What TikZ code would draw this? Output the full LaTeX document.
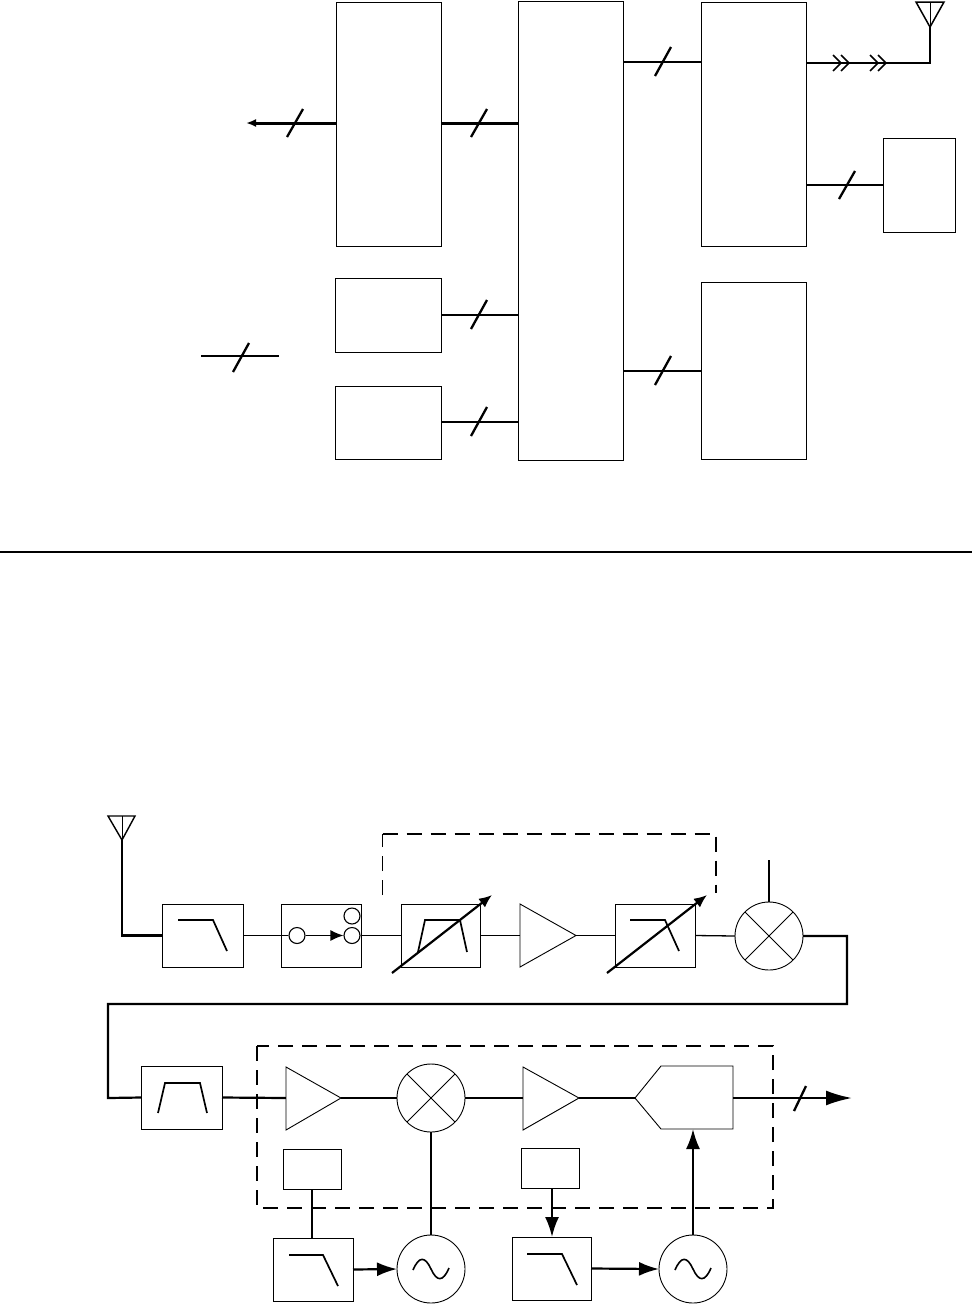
\documentclass[tikz,border=0pt]{standalone}
\usetikzlibrary{arrows.meta,calc}
\tikzset{
  x=1pt,y=-1pt,
  blk/.style={draw=black,line width=0.9pt,fill=white,rectangle,inner sep=0pt,outer sep=0pt},
  rnd/.style={draw=black,line width=0.9pt,fill=white,circle,inner sep=0pt,outer sep=0pt,minimum size=68pt},
  thin wire/.style={line width=1.3pt},
  wire/.style={line width=2.2pt},
  fat wire/.style={line width=3pt},
  glyph/.style={line width=1.7pt},
  slash/.style={line width=2.3pt},
  dash box/.style={line width=2.4pt,dash pattern=on 15pt off 9pt},
  big tip/.style={-{Latex[length=20pt,width=14pt]}},
  var arrow/.style={line width=2.2pt,-{Latex[length=13pt,width=11pt]}},
}
\newcommand{\blkat}[6]{\node[blk,minimum width=#4pt-#3pt,minimum height=#6pt-#5pt] (#1) at ({(#3+#4)/2},{(#5+#6)/2}) {};}
\begin{document}
\begin{tikzpicture}
\useasboundingbox (0,0) rectangle (972,1310);
% ---------- upper diagram
\blkat{A}{0}{336}{441}{2}{246}
\blkat{B}{0}{518}{623}{1}{460}
\blkat{C}{0}{701}{806}{2}{246}
\blkat{D}{0}{883}{955}{138}{232}
\blkat{E}{0}{335}{441}{278}{352}
\blkat{F}{0}{335}{441}{386}{459}
\blkat{G}{0}{701}{806}{282}{459}
\coordinate (outL) at (246,123);
\coordinate (legL) at (201,356);
\coordinate (legR) at (279,356);
\coordinate (antT) at (930,27);
\coordinate (sepL) at (0,552);
\coordinate (sepR) at (972,552);
\draw[fat wire,-{Latex[length=10pt,width=8pt]}] (A.west|-outL) -- (outL);
\draw[fat wire] (A.east|-outL) -- (B.west|-outL);
\coordinate (eb) at (0,315);
\draw[wire] (E.east|-eb) -- (B.west|-eb);
\coordinate (fb) at (0,422);
\draw[wire] (F.east|-fb) -- (B.west|-fb);
\coordinate (bc) at (0,62);
\draw[wire] (B.east|-bc) -- (C.west|-bc);
\coordinate (bg) at (0,371);
\draw[wire] (B.east|-bg) -- (G.west|-bg);
\coordinate (cd) at (0,185);
\draw[wire] (C.east|-cd) -- (D.west|-cd);
\coordinate (ca) at (0,63);
\draw[wire] (C.east|-ca) -- (antT|-ca) -- (antT);
\draw[line width=1.5pt] (916,2) -- (944,2) -- (antT) -- cycle;
\draw[line width=.8pt] (930,2) -- (antT);
\foreach \x in {833,870}{
  \draw[line width=1.6pt] (\x,55) -- (\x+8,63) -- (\x,71);
  \draw[line width=1.6pt] (\x+8,55) -- (\x+16,63) -- (\x+8,71);
}
\draw[slash] (287,137) -- (303,109);
\draw[slash] (471,137) -- (487,109);
\draw[slash] (655,76) -- (671,47);
\draw[slash] (839,199) -- (855,171);
\draw[slash] (471,329) -- (487,300);
\draw[slash] (471,436) -- (487,407);
\draw[slash] (655,385) -- (671,356);
\draw[wire] (legL) -- (legR);
\draw[slash] (233,372) -- (249,343);
\draw[line width=2.2pt] (sepL) -- (sepR);
% ---------- lower diagram: first row
\blkat{lpfa}{0}{162}{243}{904}{967}
\blkat{circ}{0}{281}{361}{904}{967}
\blkat{bpfv}{0}{401}{480}{904}{967}
\blkat{lpfv}{0}{615}{695}{904}{967}
\node[draw,line width=1.1pt,fill=white,circle,inner sep=0pt,minimum size=16pt] (c1) at (297,935.5) {};
\node[draw,line width=1.1pt,fill=white,circle,inner sep=0pt,minimum size=16pt] (c2) at (352,935.5) {};
\node[draw,line width=1.1pt,fill=white,circle,inner sep=0pt,minimum size=16pt] (c3) at (352,916) {};
\coordinate (ampaW) at (520,935.5);
\coordinate (ampaE) at (576,935.5);
\draw[line width=.9pt,fill=white] (520,904) -- (ampaE) -- (520,967) -- cycle;
\node[rnd] (mixa) at (769,936) {};
\draw[line width=.9pt] ($(mixa)+(-24,-24)$) -- ($(mixa)+(24,24)$);
\draw[line width=.9pt] ($(mixa)+(-24,24)$) -- ($(mixa)+(24,-24)$);
\coordinate (antB) at (122,840);
\draw[line width=1.4pt] (108,816) -- (135,816) -- (antB) -- cycle;
\draw[line width=.8pt] (122,816) -- (antB);
\draw[wire] (antB) -- (antB|-lpfa.west) -- (lpfa.west);
\draw[thin wire] (lpfa.east) -- (circ.west);
\draw[thin wire] (circ.west) -- (c1.west);
\draw[thin wire,-{Latex[length=13pt,width=11pt]}] (c1.east) -- (c2.west);
\draw[thin wire] (c2.east) -- (bpfv.west);
\draw[thin wire] (bpfv.east) -- (ampaW);
\draw[thin wire] (ampaE) -- (lpfv.west);
\draw[thin wire] (lpfv.east) -- (mixa.west);
\coordinate (loa) at (769,860);
\draw[wire] (loa) -- (mixa.north);
\draw[glyph] (178,920) -- (213,920) -- (227,951);
\draw[glyph] (418,952) -- (425,920) -- (460,920) -- (467,952);
\draw[glyph] (630,920) -- (665,920) -- (679,951);
\draw[var arrow] (392,973) -- (492,895);
\draw[var arrow] (607,973) -- (707,895);
\draw[line width=1.3pt,dash pattern=on 15pt off 9pt] (382.5,895) -- (382.5,834);
\draw[dash box] (382.5,834) -- (716,834) -- (716,893);
% ---------- second row
\blkat{bpfb}{0}{141}{222}{1066}{1129}
\coordinate (ampbW) at (286,1098);
\coordinate (ampbE) at (341,1098);
\coordinate (ampcW) at (523,1098);
\coordinate (ampcE) at (579,1098);
\coordinate (adcW) at (635,1098);
\coordinate (adcE) at (733,1098);
\node[rnd] (mixb) at (431,1098) {};
\draw[line width=.9pt] ($(mixb)+(-24,-24)$) -- ($(mixb)+(24,24)$);
\draw[line width=.9pt] ($(mixb)+(-24,24)$) -- ($(mixb)+(24,-24)$);
\blkat{sb}{0}{283}{341}{1149}{1189}
\blkat{sc}{0}{521}{579}{1148}{1188}
\blkat{lpfb}{0}{273}{353}{1238}{1301}
\blkat{lpfc}{0}{512}{591}{1237}{1300}
\node[rnd] (osca) at (431,1269) {};
\node[rnd] (oscb) at (693,1269) {};
\draw[wire] (mixa.east) -- (847,936) -- (847,1004) -- (108,1004) -- (108,1098) -- (bpfb.west);
\draw[dash box] (257,1046) rectangle (773,1208);
\draw[wire] (bpfb.east) -- (ampbW);
\draw[line width=.9pt,fill=white] (286,1067) -- (ampbE) -- (286,1130) -- cycle;
\draw[wire] (ampbE) -- (mixb.west);
\draw[wire] (mixb.east) -- (ampcW);
\draw[line width=.9pt,fill=white] (523,1067) -- (ampcE) -- (523,1130) -- cycle;
\draw[wire] (ampcE) -- (adcW);
\draw[line width=.9pt,fill=white] (adcW) -- (661,1066) -- (733,1066) -- (733,1129) -- (661,1129) -- cycle;
\coordinate (outB) at (852,1098);
\draw[wire,-{Latex[length=26pt,width=15pt]}] (adcE) -- (outB);
\draw[slash] (794,1111) -- (806,1086);
\draw[glyph] (158,1113) -- (165,1083) -- (200,1083) -- (207,1113);
\draw[glyph] (289,1255) -- (323,1255) -- (338,1286);
\draw[glyph] (527,1254) -- (562,1254) -- (577,1285);
\draw[wire] (312,1189) -- (312,1238);
\draw[wire] (mixb.south) -- (osca.north);
\draw[wire,big tip] (lpfb.east) -- (osca.west);
\draw[wire,big tip] (552,1188) -- (552,1237);
\draw[wire,big tip] (lpfc.east) -- (oscb.west);
\draw[wire,big tip] (oscb.north) -- (693,1129);
\foreach \n in {osca,oscb}{
  \draw[line width=1.6pt] ($(\n)+(-18,1)$) .. controls ($(\n)+(-12,-13)$) and ($(\n)+(-6,-13)$) .. ($(\n)+(0,0)$) .. controls ($(\n)+(6,13)$) and ($(\n)+(12,13)$) .. ($(\n)+(18,-1)$);
}
\end{tikzpicture}
\end{document}
